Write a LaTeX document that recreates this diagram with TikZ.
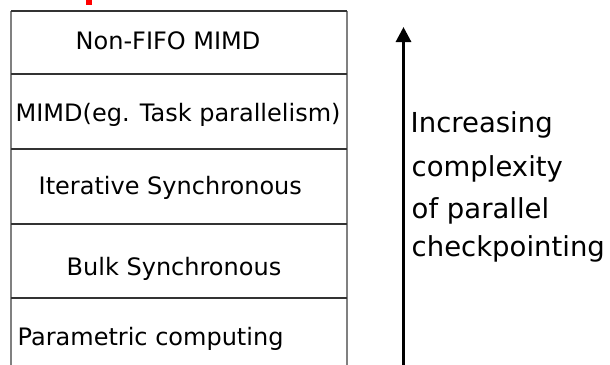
\documentclass[tikz,border=0pt]{standalone}
\usepackage{fontspec}
\setmainfont{DejaVu Sans}
\usetikzlibrary{arrows.meta}
\definecolor{hline}{HTML}{333333}
\definecolor{vline}{HTML}{808080}
\begin{document}
\begin{tikzpicture}[x=1pt,y=-1pt,
  rowtext/.style={anchor=base west,inner sep=0pt,font=\fontsize{24}{28}\selectfont,text=black},
  sidetext/.style={anchor=base west,inner sep=0pt,font=\fontsize{27.5}{32}\selectfont,text=black},
  sepline/.style={draw=hline,line width=2pt},
  sideline/.style={draw=vline,line width=2pt},
  uparrow/.style={draw=black,line width=3pt,-{Triangle[length=15pt,width=15pt]}}]
\useasboundingbox (0,0) rectangle (610,364);
\clip (0,0) rectangle (610,364);
\fill[red] (86,0) rectangle (92,4.7);
% box corners and row boundaries
\coordinate (L0) at (11,11);  \coordinate (R0) at (347,11);
\coordinate (L1) at (11,74);  \coordinate (R1) at (347,74);
\coordinate (L2) at (11,149); \coordinate (R2) at (347,149);
\coordinate (L3) at (11,224); \coordinate (R3) at (347,224);
\coordinate (L4) at (11,298); \coordinate (R4) at (347,298);
\coordinate (LB) at (11,380); \coordinate (RB) at (347,380);
\draw[sideline] (L0) -- (LB);
\draw[sideline] (R0) -- (RB);
\draw[sepline] (L0) -- (R0);
\draw[sepline] (L1) -- (R1);
\draw[sepline] (L2) -- (R2);
\draw[sepline] (L3) -- (R3);
\draw[sepline] (L4) -- (R4);
% row labels
\node[rowtext] (t1) at (75.5,49.3) {Non-FIFO MIMD};
\node[rowtext] (t2) at (15.5,121.7) {MIMD(eg. Task parallelism)};
\node[rowtext] (t3) at (38.5,194) {Iterative Synchronous};
\node[rowtext] (t4) at (66.5,275) {Bulk Synchronous};
\node[rowtext] (t5) at (17.5,345) {Parametric computing};
% arrow
\coordinate (abot) at (403.5,380);
\coordinate (atop) at (403.5,27);
\draw[uparrow] (abot) -- (atop);
% side text
\node[sidetext] (s1) at (410.5,132.7) {Increasing};
\node[sidetext] (s2) at (411.5,176) {complexity};
\node[sidetext] (s3) at (411.5,218) {of parallel};
\node[sidetext] (s4) at (411.5,256) {checkpointing};
\end{tikzpicture}
\end{document}
